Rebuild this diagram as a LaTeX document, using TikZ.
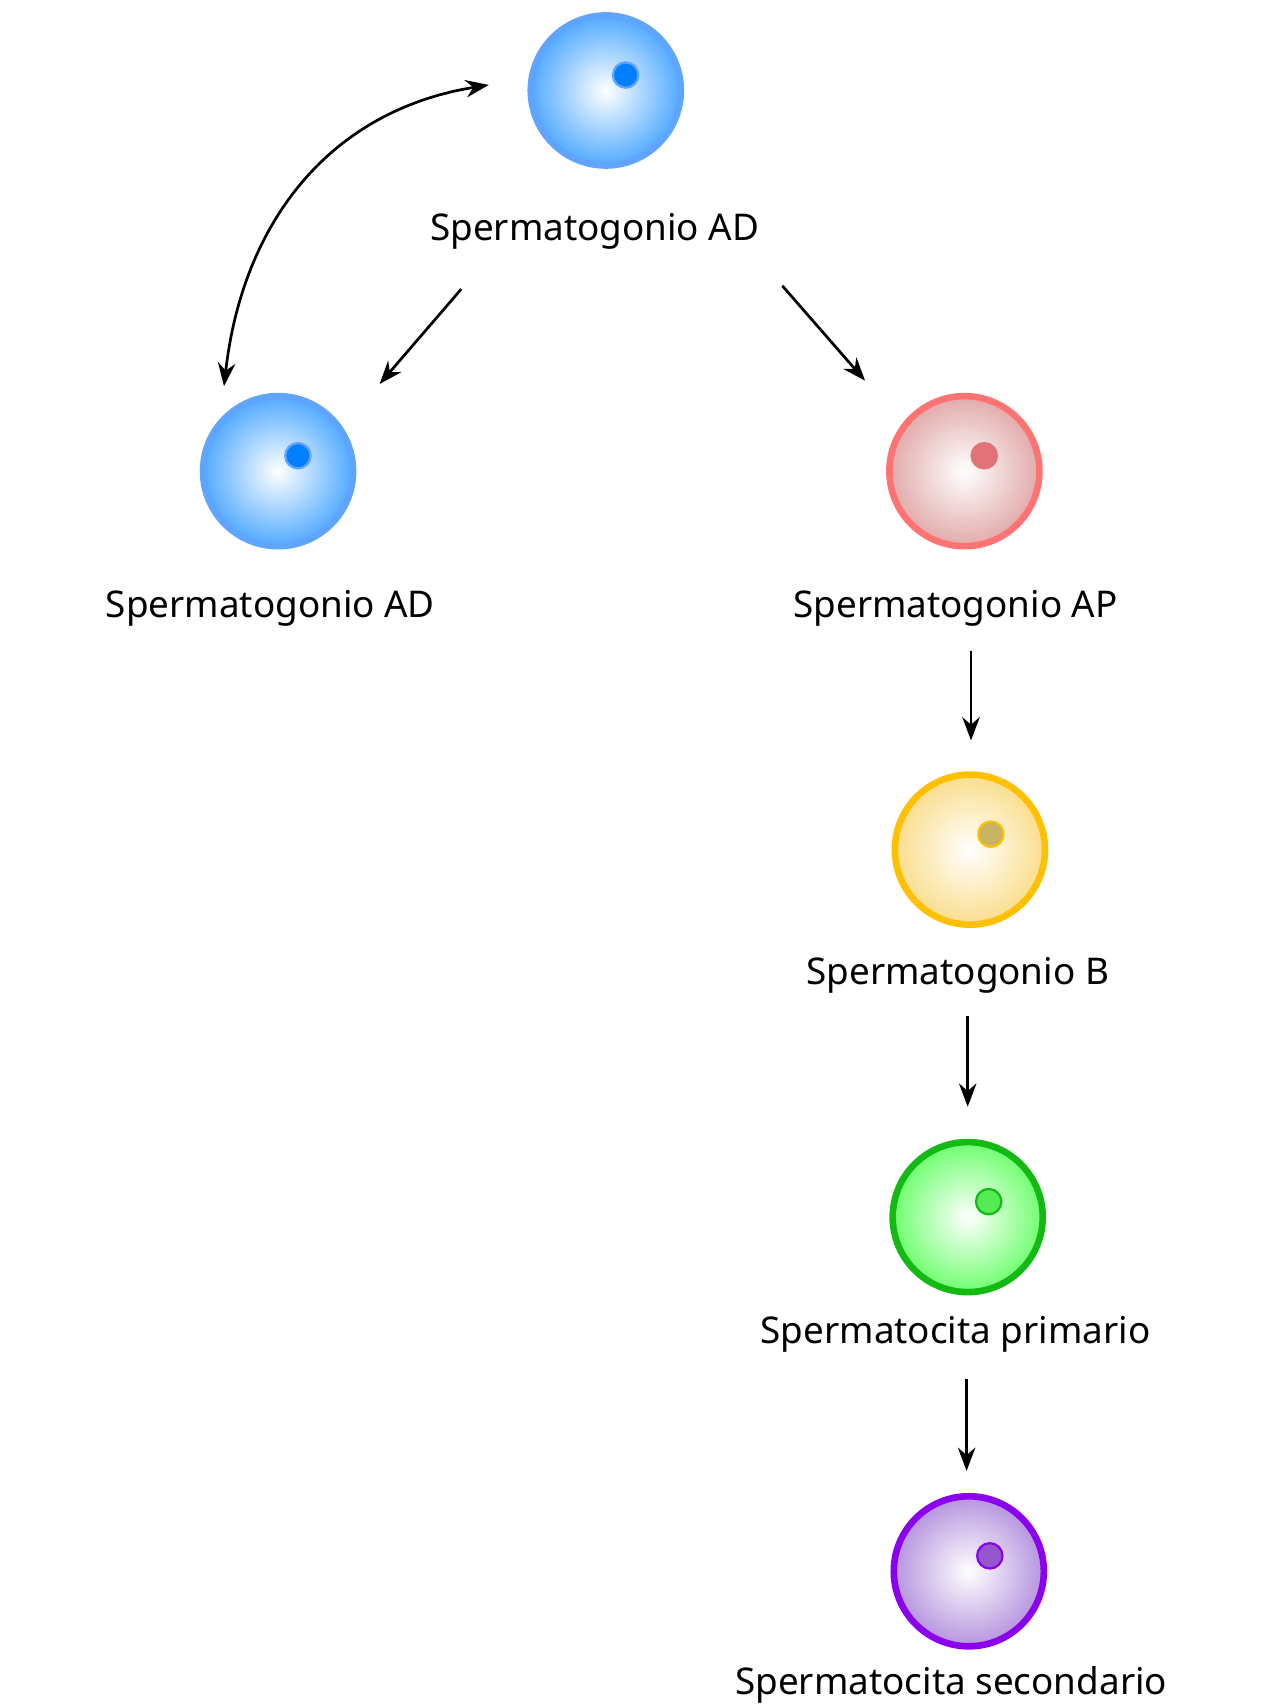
\documentclass[tikz,border=0pt]{standalone}
\usepackage{fontspec}
\setmainfont{Noto Sans}
\usetikzlibrary{arrows.meta}
\definecolor{cblue}{RGB}{20,140,255}\definecolor{sblue}{RGB}{95,165,255}\definecolor{nblue}{RGB}{0,128,255}
\definecolor{cred}{RGB}{215,140,140}\definecolor{sred}{RGB}{255,115,115}\definecolor{nred}{RGB}{225,115,120}
\definecolor{cyel}{RGB}{248,210,100}\definecolor{syel}{RGB}{255,192,0}\definecolor{nyel}{RGB}{200,178,100}
\definecolor{cgrn}{RGB}{60,255,60}\definecolor{sgrn}{RGB}{20,185,20}\definecolor{ngrn}{RGB}{85,235,85}
\definecolor{cpur}{RGB}{155,110,210}\definecolor{spur}{RGB}{140,0,240}\definecolor{npur}{RGB}{150,85,205}
\pgfdeclareradialshading{shblue}{\pgfpoint{0bp}{0bp}}{color(0bp)=(white); color(34bp)=(cblue); color(50bp)=(cblue)}
\pgfdeclareradialshading{shred}{\pgfpoint{0bp}{0bp}}{color(0bp)=(white); color(34bp)=(cred); color(50bp)=(cred)}
\pgfdeclareradialshading{shyel}{\pgfpoint{0bp}{0bp}}{color(0bp)=(white); color(34bp)=(cyel); color(50bp)=(cyel)}
\pgfdeclareradialshading{shgrn}{\pgfpoint{0bp}{0bp}}{color(0bp)=(white); color(34bp)=(cgrn); color(50bp)=(cgrn)}
\pgfdeclareradialshading{shpur}{\pgfpoint{0bp}{0bp}}{color(0bp)=(white); color(34bp)=(cpur); color(50bp)=(cpur)}
\tikzset{
 cell/.style 2 args={circle, minimum size=2.72cm, inner sep=0pt, shading=#1, draw=#2, line width=0.12cm},
 nuc/.style 2 args={circle, minimum size=0.46cm, inner sep=0pt, fill=#1, draw=#2, line width=0.04cm},
 lab/.style={font=\fontsize{19pt}{22pt}\selectfont, inner sep=0pt, anchor=base},
 arr/.style={line width=1.4pt, -{Stealth[length=12pt,width=9pt]}}
}
\begin{document}
\begin{tikzpicture}[x=0.02cm,y=-0.02cm]
\useasboundingbox (0,0) rectangle (1160,1547);
\node[cell={shblue}{sblue}] (c1) at (549,82) {};
\node[nuc={nblue}{sblue}] (n1) at (567,68) {};
\node[lab] (l1) at (539,218) {Spermatogonio AD};
\node[cell={shblue}{sblue}] (c2) at (252,427) {};
\node[nuc={nblue}{sblue}] (n2) at (270,413) {};
\node[lab] (l2) at (245,560) {Spermatogonio AD};
\node[cell={shred}{sred}] (c3) at (874,427) {};
\node[nuc={nred}{nred}] (n3) at (892,413) {};
\node[lab] (l3) at (866,560) {Spermatogonio AP};
\node[cell={shyel}{syel}] (c4) at (879,770) {};
\node[nuc={nyel}{syel}] (n4) at (898,756) {};
\node[lab] (l4) at (868,892) {Spermatogonio B};
\node[cell={shgrn}{sgrn}] (c5) at (877,1103) {};
\node[nuc={ngrn}{sgrn}] (n5) at (896,1089) {};
\node[lab] (l5) at (866,1218) {Spermatocita primario};
\node[cell={shpur}{spur}] (c6) at (878,1424) {};
\node[nuc={npur}{spur}] (n6) at (897,1410) {};
\node[lab] (l6) at (862,1536) {Spermatocita secondario};
\coordinate (a1s) at (418,262); \coordinate (a1e) at (344,348);
\coordinate (a2s) at (709,259); \coordinate (a2e) at (784,345);
\coordinate (a3s) at (880,590); \coordinate (a3e) at (880,671);
\coordinate (a4s) at (877,921); \coordinate (a4e) at (877,1003);
\coordinate (a5s) at (876,1250); \coordinate (a5e) at (876,1333);
\coordinate (b1) at (443,77); \coordinate (b2) at (203,350);
\draw[arr] (a1s) -- (a1e);
\draw[arr] (a2s) -- (a2e);
\draw[arr] (a3s) -- (a3e);
\draw[arr] (a4s) -- (a4e);
\draw[arr] (a5s) -- (a5e);
\draw[line width=1.4pt, {Stealth[length=12pt,width=9pt]}-{Stealth[length=12pt,width=9pt]}] (b1) .. controls (300,100) and (220,200) .. (b2);
\end{tikzpicture}
\end{document}
